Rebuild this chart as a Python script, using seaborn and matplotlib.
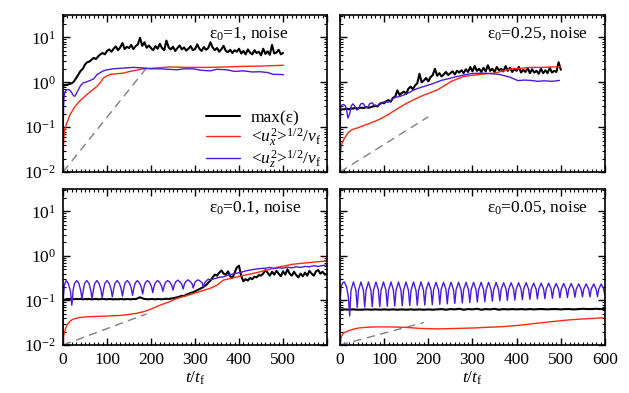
import numpy as np
import pandas as pd
import matplotlib
matplotlib.use('Agg')
import matplotlib.pyplot as plt
import seaborn as sns
from matplotlib.ticker import LogLocator, MultipleLocator, NullFormatter

sns.set_theme(style='ticks')
plt.rcParams['font.family'] = ['Liberation Serif', 'DejaVu Serif']
plt.rcParams['mathtext.fontset'] = 'custom'
plt.rcParams['mathtext.rm'] = 'Liberation Serif'
plt.rcParams['mathtext.it'] = 'Liberation Serif:italic'
plt.rcParams['mathtext.bf'] = 'Liberation Serif:bold'
for k in ['text.color', 'axes.labelcolor', 'xtick.color', 'ytick.color', 'axes.edgecolor']:
    plt.rcParams[k] = 'black'

# ---------------- data ----------------
titles = ['ε$_0$=1, noise', 'ε$_0$=0.25, noise', 'ε$_0$=0.1, noise', 'ε$_0$=0.05, noise']
legend_labels = ['max(ε)', '<$u_x^2$>$^{1/2}$/$v_{\\rm f}$', '<$u_z^2$>$^{1/2}$/$v_{\\rm f}$']
x_ticks = [0, 100, 200, 300, 400, 500, 600]
x_ticklabels_left = ['0', '100', '200', '300', '400', '500', '']
x_ticklabels_right = ['0', '100', '200', '300', '400', '500', '600']

# panel 1: eps0 = 1
tl_black = [0.85, 0.86, 0.88, 0.92, 0.95, 1.05, 1.25, 1.5, 1.8, 2.0,
            2.5, 2.8, 2.9, 3.2, 3.5, 3.3, 3.8, 4.2, 4.5, 4.2,
            5.0, 5.4, 4.8, 5.6, 6.3, 5.2, 6.0, 7.5, 5.5, 6.2,
            5.8, 6.8, 5.5, 6.4, 7.0, 9.8, 6.5, 7.8, 5.9, 6.6,
            5.8, 5.2, 6.4, 5.6, 7.2, 5.8, 5.2, 8.5, 6.0, 5.4,
            6.2, 5.0, 5.8, 6.6, 5.4, 6.0, 5.1, 5.6, 6.4, 5.2,
            5.5, 7.0, 5.6, 5.0, 6.1, 5.3, 5.8, 7.8, 6.0, 5.2,
            5.8, 4.8, 5.5, 6.5, 5.0, 4.7, 5.3, 4.5, 5.2, 4.8,
            5.6, 4.4, 5.0, 4.2, 5.4, 4.6, 4.2, 5.2, 4.5, 4.8,
            4.0, 5.6, 4.3, 4.9, 4.1, 6.8, 4.4, 4.6, 5.3, 4.2,
            4.5]
tl_black_tmax = 500
tl_red_t = [0, 0.5, 1, 2, 4, 8, 12, 16, 20, 25, 31, 40, 54, 65, 77, 85, 92, 100, 107, 120,
            137, 152, 165, 183, 200, 243, 280, 334, 370, 410, 450, 501]
tl_red = [0.01, 0.02, 0.035, 0.06, 0.09, 0.12, 0.15, 0.19, 0.22, 0.27, 0.32, 0.40, 0.53, 0.65,
          0.81, 1.0, 1.25, 1.4, 1.5, 1.55, 1.6, 1.75, 1.85, 2.0, 2.05, 2.2, 2.15, 2.15, 2.2,
          2.27, 2.3, 2.4]
tl_blue_t = [0, 0.5, 1, 2, 4, 8, 12, 16, 20, 24, 27, 30, 35, 40, 46, 53, 61, 70, 77, 85, 92,
             100, 114, 130, 145, 160, 180, 200, 220, 240, 258, 275, 296, 315, 335, 350, 372,
             390, 410, 430, 448, 465, 478, 490, 501]
tl_blue = [0.01, 0.05, 0.2, 0.45, 0.6, 0.68, 0.69, 0.66, 0.58, 0.5, 0.49, 0.55, 0.69, 0.85,
           0.97, 1.02, 1.09, 1.2, 1.48, 1.65, 1.8, 1.9, 2.0, 2.05, 2.1, 2.15, 2.1, 2.0, 2.0,
           1.95, 1.9, 2.0, 2.0, 1.85, 1.8, 1.95, 1.9, 1.75, 1.8, 1.7, 1.72, 1.65, 1.5, 1.5, 1.48]
tl_dash_t = [0, 190]
tl_dash = [0.01, 2.1]

# panel 2: eps0 = 0.25
tr_black = [0.24, 0.25, 0.25, 0.26, 0.25, 0.26, 0.26, 0.27, 0.26, 0.27,
            0.27, 0.27, 0.28, 0.27, 0.28, 0.29, 0.30, 0.29, 0.33, 0.35,
            0.34, 0.38, 0.40, 0.37, 0.45, 0.48, 0.66, 0.52, 0.58, 0.62,
            0.55, 0.72, 0.80, 0.70, 0.85, 0.95, 1.55, 1.00, 1.10, 1.25,
            1.05, 1.30, 1.45, 2.00, 1.40, 1.60, 1.35, 1.50, 1.70, 1.45,
            1.60, 1.75, 1.50, 1.80, 1.65, 1.85, 1.60, 1.95, 1.70, 2.20,
            1.75, 2.30, 1.80, 2.00, 1.70, 2.10, 1.75, 2.40, 1.80, 2.00,
            1.70, 2.20, 1.85, 2.00, 1.75, 2.30, 1.80, 2.10, 1.70, 2.00,
            1.80, 2.20, 1.65, 1.90, 1.70, 2.10, 1.60, 1.95, 1.65, 1.80,
            1.55, 2.00, 1.60, 1.85, 1.60, 2.10, 1.65, 1.80, 1.70, 2.80,
            1.90]
tr_black_tmax = 500
tr_red_t = [0, 0.5, 1, 2, 4, 7, 12, 18, 25, 33, 41, 55, 71, 90, 109, 128, 146, 165, 184, 203,
            222, 237, 252, 267, 282, 297, 312, 330, 350, 370, 388, 410, 433, 460, 480, 500]
tr_red = [0.01, 0.015, 0.022, 0.032, 0.042, 0.05, 0.06, 0.075, 0.085, 0.092, 0.097, 0.11,
          0.125, 0.15, 0.19, 0.25, 0.32, 0.4, 0.49, 0.58, 0.69, 0.85, 1.05, 1.2, 1.36, 1.42,
          1.48, 1.55, 1.6, 1.8, 1.98, 2.05, 2.15, 2.15, 2.2, 2.2]
tr_blue_t = [0, 0.5, 1, 2, 4, 8, 12, 15, 18, 22, 26, 29, 33, 38, 42, 47, 52, 57, 62, 67, 72,
             78, 85, 92, 100, 110, 124, 135, 146, 158, 169, 185, 199, 215, 229, 245, 260, 280,
             297, 320, 343, 360, 373, 385, 403, 418, 433, 448, 463, 480, 497]
tr_blue = [0.01, 0.05, 0.15, 0.28, 0.31, 0.32, 0.30, 0.24, 0.16, 0.2, 0.30, 0.33, 0.30, 0.24,
           0.26, 0.33, 0.34, 0.29, 0.27, 0.33, 0.35, 0.31, 0.3, 0.33, 0.37, 0.36, 0.46, 0.48,
           0.53, 0.6, 0.69, 0.78, 0.86, 0.97, 1.1, 1.2, 1.31, 1.45, 1.56, 1.6, 1.56, 1.5, 1.4,
           1.3, 1.09, 1.12, 1.1, 1.05, 1.08, 1.05, 1.1]
tr_dash_t = [0, 200]
tr_dash = [0.01, 0.17]

# panel 3: eps0 = 0.1
bl_black = [0.100, 0.105, 0.108, 0.107, 0.110, 0.106, 0.108, 0.107, 0.109, 0.106,
            0.108, 0.107, 0.108, 0.106, 0.107, 0.108, 0.106, 0.107, 0.108, 0.107,
            0.106, 0.108, 0.107, 0.106, 0.107, 0.106, 0.108, 0.107, 0.106, 0.108,
            0.107, 0.106, 0.108, 0.107, 0.112, 0.118, 0.112, 0.108, 0.107, 0.106,
            0.108, 0.107, 0.106, 0.108, 0.107, 0.106, 0.108, 0.109, 0.108, 0.110,
            0.112,
            0.115, 0.118, 0.122, 0.128, 0.125, 0.135, 0.140, 0.148, 0.152, 0.160,
            0.170, 0.180, 0.190, 0.205, 0.220, 0.250, 0.280, 0.330, 0.380, 0.360,
            0.420, 0.470, 0.400, 0.380, 0.450, 0.350, 0.320, 0.420, 0.550, 0.600,
            0.350, 0.270, 0.300, 0.280, 0.320, 0.300, 0.340, 0.330, 0.370, 0.360,
            0.400, 0.480, 0.420, 0.360, 0.440, 0.380, 0.460, 0.400, 0.350, 0.450,
            0.380, 0.500, 0.400, 0.360, 0.440, 0.370, 0.330, 0.400, 0.350, 0.420,
            0.360, 0.460, 0.400, 0.360, 0.450, 0.480, 0.400, 0.440, 0.380, 0.400]
bl_black_tmax = 600
bl_red_t = [0, 0.5, 1, 2, 3, 5, 8, 12, 17, 23, 35, 54, 80, 107, 130, 145, 165, 183, 200, 220,
            240, 258, 277, 296, 315, 334, 350, 364, 380, 402, 425, 448, 467, 486, 505, 523,
            542, 561, 580, 600]
bl_red = [0.01, 0.012, 0.014, 0.017, 0.019, 0.022, 0.027, 0.031, 0.035, 0.038, 0.041, 0.043,
          0.044, 0.045, 0.046, 0.048, 0.051, 0.056, 0.064, 0.078, 0.092, 0.11, 0.125, 0.143,
          0.163, 0.186, 0.22, 0.285, 0.31, 0.35, 0.39, 0.44, 0.49, 0.55, 0.6, 0.65, 0.68,
          0.71, 0.74, 0.77]
bl_blue_t = [0, 1, 3, 7, 12, 17, 20,
             23, 26, 31, 36, 40, 43,
             46, 49, 54, 59, 63, 66,
             69, 72, 77, 82, 86, 89,
             92, 95, 100, 105, 109, 112,
             115, 118, 123, 128, 132, 135,
             138, 141, 146, 151, 155, 158,
             161, 164, 169, 174, 178, 181,
             184, 187, 192, 197, 201, 204,
             207, 210, 215, 220, 224, 227,
             230, 233, 238, 243, 247, 250,
             253, 256, 261, 266, 270, 273,
             276, 279, 284, 289, 293, 296,
             299, 302, 307, 312, 316, 319,
             322, 325, 330, 336, 345, 355, 365, 375, 385, 395, 405, 415, 425, 435, 448,
             460, 470, 480, 490, 500, 510, 520, 530, 540, 550, 560, 570, 580, 590, 600]
bl_blue = [0.01, 0.12, 0.22, 0.28, 0.24, 0.16, 0.078,
           0.17, 0.24, 0.28, 0.24, 0.17, 0.11,
           0.17, 0.24, 0.28, 0.24, 0.17, 0.11,
           0.17, 0.24, 0.28, 0.24, 0.175, 0.115,
           0.175, 0.24, 0.28, 0.24, 0.18, 0.12,
           0.18, 0.24, 0.28, 0.24, 0.185, 0.125,
           0.185, 0.245, 0.28, 0.245, 0.19, 0.13,
           0.19, 0.245, 0.28, 0.245, 0.195, 0.14,
           0.2, 0.25, 0.28, 0.25, 0.205, 0.15,
           0.21, 0.25, 0.28, 0.25, 0.21, 0.16,
           0.215, 0.255, 0.28, 0.255, 0.22, 0.17,
           0.225, 0.26, 0.285, 0.26, 0.23, 0.18,
           0.235, 0.265, 0.29, 0.265, 0.24, 0.19,
           0.245, 0.27, 0.29, 0.27, 0.25, 0.2,
           0.25, 0.27, 0.3, 0.29, 0.31, 0.33, 0.34, 0.37, 0.39, 0.41, 0.43, 0.46, 0.48,
           0.5, 0.52, 0.53, 0.55, 0.52, 0.54, 0.53, 0.56, 0.54, 0.57, 0.55, 0.58, 0.57,
           0.6, 0.58, 0.61, 0.62]
bl_dash_t = [0, 190]
bl_dash = [0.01, 0.05]

# panel 4: eps0 = 0.05
br_black = [0.062, 0.063, 0.062, 0.063, 0.062, 0.062, 0.063, 0.062, 0.063, 0.062,
            0.063, 0.062, 0.063, 0.062, 0.063, 0.062, 0.063, 0.062, 0.063, 0.062,
            0.063, 0.062, 0.063, 0.064, 0.062, 0.064, 0.063, 0.065, 0.062, 0.064,
            0.063, 0.065, 0.062, 0.064, 0.063, 0.065, 0.062, 0.064, 0.063, 0.064,
            0.063, 0.064, 0.063, 0.064, 0.063, 0.064, 0.064, 0.063, 0.064, 0.064,
            0.063, 0.064, 0.064, 0.063, 0.064, 0.065, 0.064, 0.064, 0.065, 0.064,
            0.065]
br_black_tmax = 600
br_red_t = [0, 0.5, 1, 2, 4, 7, 12, 20, 30, 41, 60, 80, 109, 146, 184, 222, 260, 297, 335,
            373, 410, 448, 486, 524, 561, 600]
br_red = [0.01, 0.011, 0.012, 0.014, 0.016, 0.018, 0.0195, 0.021, 0.0225, 0.024, 0.025,
          0.0255, 0.0255, 0.025, 0.0235, 0.023, 0.0235, 0.024, 0.025, 0.026, 0.028, 0.031,
          0.034, 0.037, 0.039, 0.041]
br_blue_t = [0, 1, 2.5, 6, 10, 15, 19, 22,
             25, 30.5, 36, 39, 42, 47.5, 53, 56, 59, 64.5, 70, 73, 76, 81.5, 87, 90,
             93, 98.5, 104, 107, 110, 115.5, 121, 124, 127, 132.5, 138, 141,
             144, 149.5, 155, 158, 161, 166.5, 172, 175, 178, 183.5, 189, 192,
             195, 200.5, 206, 209, 212, 217.5, 223, 226, 229, 234.5, 240, 243,
             246, 251.5, 257, 260, 263, 268.5, 274, 277, 280, 285.5, 291, 294,
             297, 302.5, 308, 311, 314, 319.5, 325, 328, 331, 336.5, 342, 345,
             348, 353.5, 359, 362, 365, 370.5, 376, 379, 382, 387.5, 393, 396,
             399, 404.5, 410, 413, 416, 421.5, 427, 430, 433, 438.5, 444, 447,
             450, 455.5, 461, 464, 467, 472.5, 478, 481, 484, 489.5, 495, 498,
             501, 506.5, 512, 515, 518, 523.5, 529, 532, 535, 540.5, 546, 549,
             552, 557.5, 563, 566, 569, 574.5, 580, 583, 586, 591.5, 597, 600]
br_blue = [0.01, 0.12, 0.2, 0.25, 0.26, 0.2, 0.12, 0.045,
           0.17, 0.26, 0.17, 0.07, 0.17, 0.26, 0.17, 0.071, 0.17, 0.26, 0.17, 0.072,
           0.17, 0.26, 0.17, 0.073, 0.17, 0.26, 0.17, 0.074, 0.17, 0.26, 0.17, 0.075,
           0.17, 0.26, 0.17, 0.076, 0.17, 0.26, 0.17, 0.077, 0.17, 0.26, 0.17, 0.078,
           0.17, 0.26, 0.17, 0.079,
           0.175, 0.255, 0.175, 0.08, 0.175, 0.255, 0.175, 0.082, 0.175, 0.255, 0.175, 0.084,
           0.175, 0.255, 0.175, 0.086, 0.175, 0.255, 0.175, 0.088, 0.175, 0.255, 0.175, 0.09,
           0.175, 0.255, 0.175, 0.092, 0.175, 0.255, 0.175, 0.094, 0.175, 0.255, 0.175, 0.096,
           0.175, 0.255, 0.175, 0.098,
           0.18, 0.25, 0.18, 0.1, 0.18, 0.25, 0.18, 0.102, 0.18, 0.25, 0.18, 0.104,
           0.18, 0.25, 0.18, 0.106, 0.18, 0.245, 0.18, 0.108, 0.18, 0.245, 0.18, 0.11,
           0.18, 0.245, 0.18, 0.112, 0.18, 0.24, 0.18, 0.114,
           0.18, 0.24, 0.18, 0.116, 0.18, 0.24, 0.18, 0.118, 0.18, 0.235, 0.18, 0.12,
           0.18, 0.235, 0.18, 0.12, 0.18, 0.235, 0.18, 0.122, 0.18, 0.235, 0.18, 0.13]
br_dash_t = [0, 190]
br_dash = [0.01, 0.032]

# ---------------- figure ----------------
C_BLACK = 'black'
C_RED = '#ff2a10'
C_BLUE = '#4b19d8'
C_DASH = '#808080'

fig = plt.figure(figsize=(6.29, 3.93), dpi=100)
positions = [
    [0.1002, 0.5623, 0.4197, 0.3995],
    [0.5405, 0.5623, 0.4213, 0.3995],
    [0.1002, 0.1221, 0.4197, 0.3969],
    [0.5405, 0.1221, 0.4213, 0.3969],
]
panels = [
    (tl_black, tl_black_tmax, tl_red_t, tl_red, tl_blue_t, tl_blue, tl_dash_t, tl_dash),
    (tr_black, tr_black_tmax, tr_red_t, tr_red, tr_blue_t, tr_blue, tr_dash_t, tr_dash),
    (bl_black, bl_black_tmax, bl_red_t, bl_red, bl_blue_t, bl_blue, bl_dash_t, bl_dash),
    (br_black, br_black_tmax, br_red_t, br_red, br_blue_t, br_blue, br_dash_t, br_dash),
]

FS = 12.5
for i, (pos, pdata) in enumerate(zip(positions, panels)):
    blk, tmax, rt, rv, bt, bv, dt, dv = pdata
    ax = fig.add_axes(pos)
    bk_t = np.linspace(0, tmax, len(blk))
    sns.lineplot(x=dt, y=dv, ax=ax, color=C_DASH, lw=1.0, estimator=None, sort=False)
    ax.lines[-1].set_dashes((6, 4))
    lab = (lambda j: legend_labels[j]) if i == 0 else (lambda j: None)
    sns.lineplot(x=bk_t, y=blk, ax=ax, color=C_BLACK, lw=1.5, estimator=None, sort=False,
                 label=lab(0))
    sns.lineplot(x=rt, y=rv, ax=ax, color=C_RED, lw=1.0, estimator=None, sort=False,
                 label=lab(1))
    sns.lineplot(x=bt, y=bv, ax=ax, color=C_BLUE, lw=1.0, estimator=None, sort=False,
                 label=lab(2))

    ax.set_yscale('log')
    ax.set_xlim(0, 600)
    ax.set_ylim(0.01, 10 ** 1.5)
    ax.yaxis.set_major_locator(LogLocator(base=10, numticks=10))
    ax.yaxis.set_minor_locator(LogLocator(base=10, subs=np.arange(2, 10), numticks=20))
    ax.yaxis.set_minor_formatter(NullFormatter())
    ax.set_xticks(x_ticks)
    ax.xaxis.set_minor_locator(MultipleLocator(10))
    ax.tick_params(which='both', direction='in', top=True, right=True)
    ax.tick_params(which='major', length=5, width=1.0, labelsize=FS, pad=5)
    ax.tick_params(which='minor', length=2.5, width=0.8)
    for s in ax.spines.values():
        s.set_linewidth(1.2)
    ax.set_ylabel('')
    ax.set_xlabel('')
    if i in (0, 1):
        ax.tick_params(labelbottom=False)
    else:
        ax.set_xticklabels(x_ticklabels_left if i == 2 else x_ticklabels_right)
        ax.set_xlabel('$t/t_{\\rm f}$', fontsize=FS, labelpad=1)
    if i in (1, 3):
        ax.tick_params(labelleft=False)
    ax.text(0.553, 0.88, titles[i], transform=ax.transAxes, ha='left', va='center',
            fontsize=FS)
    if i == 0:
        ax.legend(loc='upper left', bbox_to_anchor=(0.54, 0.395), frameon=False,
                  fontsize=FS, handlelength=2.0, handletextpad=0.6, labelspacing=0.0,
                  borderaxespad=0, borderpad=0)
    elif ax.get_legend() is not None:
        ax.get_legend().remove()

fig.savefig('out.png', dpi=100)
